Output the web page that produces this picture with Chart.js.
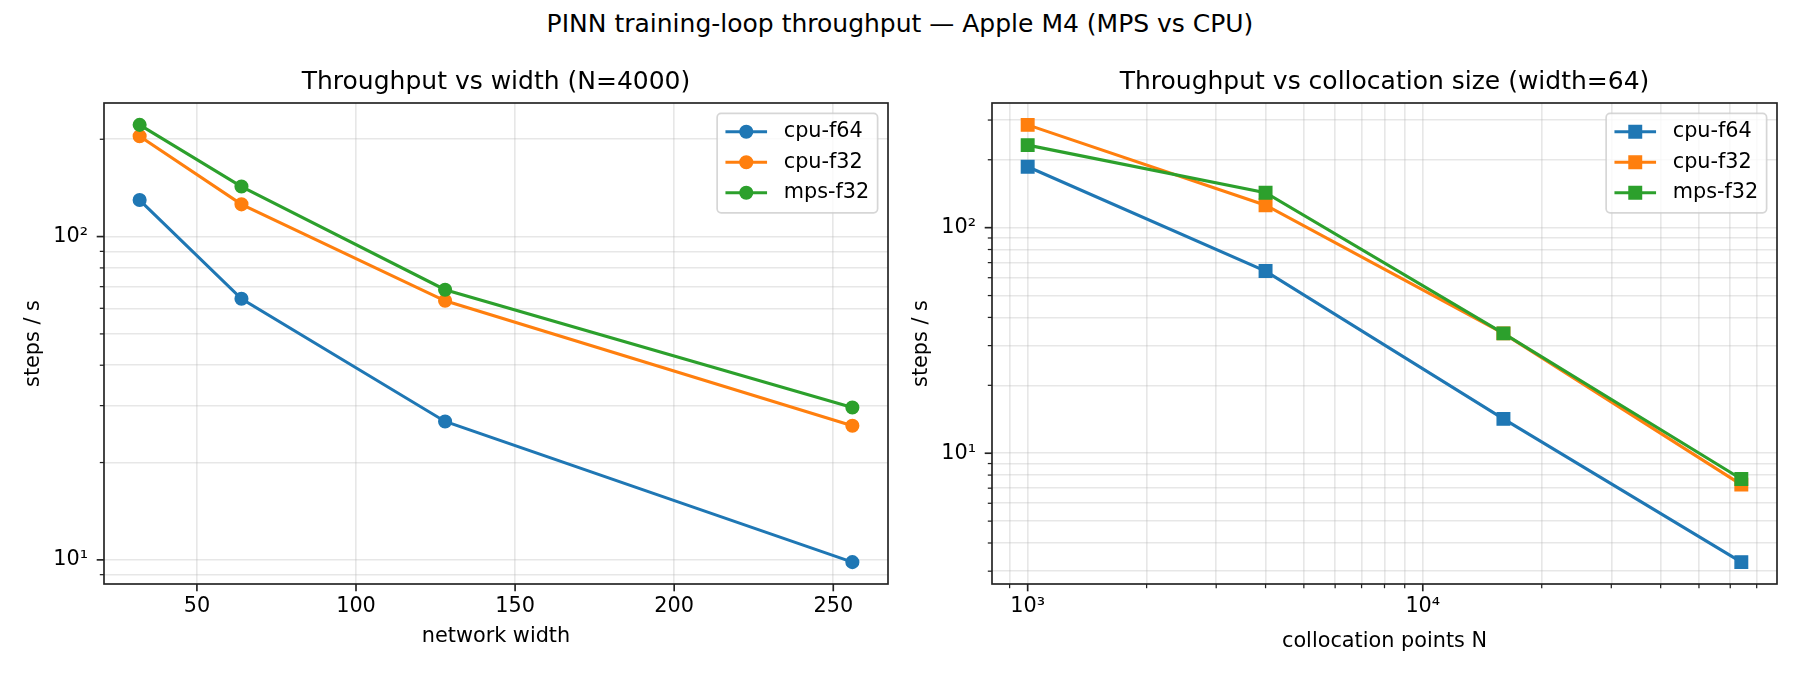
<!DOCTYPE html>
<html>
<head>
<meta charset="utf-8">
<script src="https://cdn.jsdelivr.net/npm/chart.js@4.4.1/dist/chart.umd.min.js"></script>
<style>
  body { margin: 0; background: #fff; }
  #wrap { position: relative; width: 1800px; height: 675px; overflow: hidden; }
  #suptitle {
    position: absolute; left: 0; top: 9px; width: 1800px; text-align: center;
    font: 25px "DejaVu Sans"; line-height: 30px; color: #000;
  }
  canvas { position: absolute; top: 0; }
</style>
</head>
<body>
<div id="wrap">
  <div id="suptitle">PINN training-loop throughput — Apple M4 (MPS vs CPU)</div>
  <canvas id="widthChart" width="940" height="675" style="left:0"></canvas>
  <canvas id="pointsChart" width="905" height="675" style="left:895px"></canvas>
</div>
<script>
// left panel: throughput vs network width (N=4000)
const widths = [32, 64, 128, 256];
const cpuF64ByWidth = [129.7, 64.2, 26.8, 9.84];
const cpuF32ByWidth = [204.4, 125.8, 63.3, 26.0];
const mpsF32ByWidth = [221.6, 142.8, 68.5, 29.6];
const widthTicks = [50, 100, 150, 200, 250];

// right panel: throughput vs collocation size (width=64)
const points = [1000, 4000, 16000, 64000];
const cpuF64ByPoints = [186.2, 64.2, 14.2, 3.29];
const cpuF32ByPoints = [285.6, 125.8, 34.0, 7.26];
const mpsF32ByPoints = [232.2, 142.8, 34.0, 7.69];

const seriesNames = ['cpu-f64', 'cpu-f32', 'mps-f32'];
const colors = ['#1f77b4', '#ff7f0e', '#2ca02c'];

const FONT = 'DejaVu Sans';
const fs = 20.8;
const gridColor = 'rgba(176,176,176,0.3)';
Chart.defaults.font.family = FONT;
Chart.defaults.color = '#000';

const sup = {'0':'⁰','1':'¹','2':'²','3':'³','4':'⁴','5':'⁵','6':'⁶','7':'⁷','8':'⁸','9':'⁹','-':'⁻'};
function decadeLabel(v) {
  const e = Math.log10(v);
  if (Math.abs(e - Math.round(e)) > 1e-9) return '';
  return '10' + String(Math.round(e)).split('').map(c => sup[c]).join('');
}

function logTicks(min, max) {
  const out = [];
  for (let n = Math.floor(Math.log10(min)); n <= Math.ceil(Math.log10(max)); n++) {
    for (let k = 1; k <= 9; k++) {
      const v = Number((k * Math.pow(10, n)).toPrecision(12));
      if (v >= min * (1 - 1e-9) && v <= max * (1 + 1e-9)) out.push({ value: v, major: k === 1 });
    }
  }
  return out;
}

// matplotlib style 5% margins
function linLimits(arr) {
  const lo = Math.min(...arr), hi = Math.max(...arr), pad = 0.05 * (hi - lo);
  return [lo - pad, hi + pad];
}
function logLimits(arr) {
  const lo = Math.log10(Math.min(...arr)), hi = Math.log10(Math.max(...arr)), pad = 0.05 * (hi - lo);
  return [Math.pow(10, lo - pad), Math.pow(10, hi + pad)];
}

function makeSets(xs, series, style, radius) {
  return series.map((ys, i) => ({
    label: seriesNames[i],
    data: xs.map((x, j) => ({ x: x, y: ys[j] })),
    borderColor: colors[i],
    backgroundColor: colors[i],
    borderWidth: 3.1,
    pointStyle: style,
    pointRadius: radius,
    pointHoverRadius: radius,
    pointBorderWidth: 1.5,
    pointBackgroundColor: colors[i],
    pointBorderColor: colors[i],
    tension: 0,
    order: 3 - i
  }));
}

// frame on all four sides + matplotlib-like outward ticks
const frameAndTicks = {
  id: 'frameAndTicks',
  afterDraw(chart) {
    const { ctx, chartArea: a } = chart;
    ctx.save();
    ctx.strokeStyle = '#222';
    ['x', 'y'].forEach(id => {
      const s = chart.scales[id];
      s.ticks.forEach(t => {
        const p = s.getPixelForValue(t.value);
        const len = t.major ? 7.3 : 4.2;
        ctx.lineWidth = t.major ? 1.67 : 1.25;
        ctx.beginPath();
        if (id === 'x') { ctx.moveTo(p, a.bottom); ctx.lineTo(p, a.bottom + len); }
        else { ctx.moveTo(a.left, p); ctx.lineTo(a.left - len, p); }
        ctx.stroke();
      });
    });
    ctx.lineWidth = 1.67;
    ctx.strokeRect(a.left, a.top, a.right - a.left, a.bottom - a.top);
    ctx.restore();
  }
};

// legend inside the upper right corner of the axes
const innerLegend = {
  id: 'innerLegend',
  afterDraw(chart) {
    const { ctx, chartArea: a } = chart;
    const sets = chart.data.datasets;
    ctx.save();
    ctx.font = fs + 'px "' + FONT + '"';
    const textW = Math.max(...sets.map(d => ctx.measureText(d.label).width));
    const pad = 0.4 * fs, handle = 2 * fs, gap = 0.8 * fs, rowH = 30.5;
    const w = 2 * pad + handle + gap + textW, h = 99.4;
    const x0 = a.right - 0.5 * fs - w, y0 = a.top + 0.5 * fs;
    ctx.beginPath();
    ctx.roundRect(x0, y0, w, h, 4);
    ctx.fillStyle = 'rgba(255,255,255,0.8)';
    ctx.fill();
    ctx.strokeStyle = 'rgba(204,204,204,0.8)';
    ctx.lineWidth = 1.7;
    ctx.stroke();
    sets.forEach((d, i) => {
      const cy = y0 + 18.4 + i * rowH;
      ctx.strokeStyle = d.borderColor;
      ctx.fillStyle = d.borderColor;
      ctx.lineWidth = d.borderWidth;
      ctx.beginPath();
      ctx.moveTo(x0 + pad, cy);
      ctx.lineTo(x0 + pad + handle, cy);
      ctx.stroke();
      ctx.lineWidth = d.pointBorderWidth;
      Chart.helpers.drawPoint(ctx, { pointStyle: d.pointStyle, rotation: 0, radius: d.pointRadius, borderWidth: d.pointBorderWidth },
        x0 + pad + handle / 2, cy);
      ctx.fillStyle = '#000';
      ctx.textBaseline = 'middle';
      ctx.textAlign = 'left';
      ctx.fillText(d.label, x0 + pad + handle + gap, cy);
    });
    ctx.restore();
  }
};

function gridOpts() {
  return { color: gridColor, lineWidth: 1.6, drawTicks: false };
}

function makeChart(canvasId, cfg) {
  return new Chart(document.getElementById(canvasId), {
    type: 'line',
    data: { datasets: cfg.datasets },
    options: {
      responsive: false,
      animation: false,
      events: [],
      layout: { padding: { left: 0, right: cfg.padRight, top: 0, bottom: 0 } },
      plugins: {
        legend: { display: false },
        tooltip: { enabled: false },
        title: {
          display: true, text: cfg.title, fullSize: false,
          font: { size: 25, weight: 'normal', lineHeight: 1.2 }, color: '#000',
          padding: { top: 67, bottom: 6 }
        }
      },
      scales: {
        x: Object.assign({
          min: cfg.xLim[0], max: cfg.xLim[1], bounds: 'data',
          ticks: { autoSkip: false, maxRotation: 0, padding: 10, font: { size: fs }, color: '#000', callback: cfg.xLabel },
          grid: gridOpts(),
          border: { display: false },
          title: { display: true, text: cfg.xTitle, font: { size: fs, lineHeight: 1.2 }, color: '#000', padding: { top: 0, bottom: cfg.xTitlePad } },
          afterFit: s => { s.height = 91; }
        }, cfg.xScale),
        y: {
          type: 'logarithmic',
          min: cfg.yLim[0], max: cfg.yLim[1], bounds: 'data',
          afterBuildTicks: s => { s.ticks = logTicks(s.min, s.max); },
          ticks: { autoSkip: false, padding: 16, font: { size: fs }, color: '#000', callback: v => decadeLabel(v) },
          grid: gridOpts(),
          border: { display: false },
          title: { display: true, text: 'steps / s', font: { size: fs, lineHeight: 1.2 }, color: '#000', padding: { top: cfg.yTitlePad, bottom: 0 } },
          afterFit: s => { s.width = cfg.yAxisWidth; }
        }
      }
    },
    plugins: [frameAndTicks, innerLegend]
  });
}

makeChart('widthChart', {
  title: 'Throughput vs width (N=4000)',
  datasets: makeSets(widths, [cpuF64ByWidth, cpuF32ByWidth, mpsF32ByWidth], 'circle', 6.3),
  xLim: linLimits(widths),
  yLim: logLimits([...cpuF64ByWidth, ...cpuF32ByWidth, ...mpsF32ByWidth]),
  xScale: {
    type: 'linear',
    afterBuildTicks: s => { s.ticks = widthTicks.map(v => ({ value: v, major: true })); }
  },
  xLabel: v => String(v),
  xTitle: 'network width',
  xTitlePad: 25.5,
  yTitlePad: 21.5,
  yAxisWidth: 104,
  padRight: 52
});

makeChart('pointsChart', {
  title: 'Throughput vs collocation size (width=64)',
  datasets: makeSets(points, [cpuF64ByPoints, cpuF32ByPoints, mpsF32ByPoints], 'rect', 8.8),
  xLim: logLimits(points),
  yLim: logLimits([...cpuF64ByPoints, ...cpuF32ByPoints, ...mpsF32ByPoints]),
  xScale: {
    type: 'logarithmic',
    afterBuildTicks: s => { s.ticks = logTicks(s.min, s.max); }
  },
  xLabel: v => decadeLabel(v),
  xTitle: 'collocation points N',
  xTitlePad: 21,
  yTitlePad: 14.5,
  yAxisWidth: 97,
  padRight: 23
});
</script>
</body>
</html>
